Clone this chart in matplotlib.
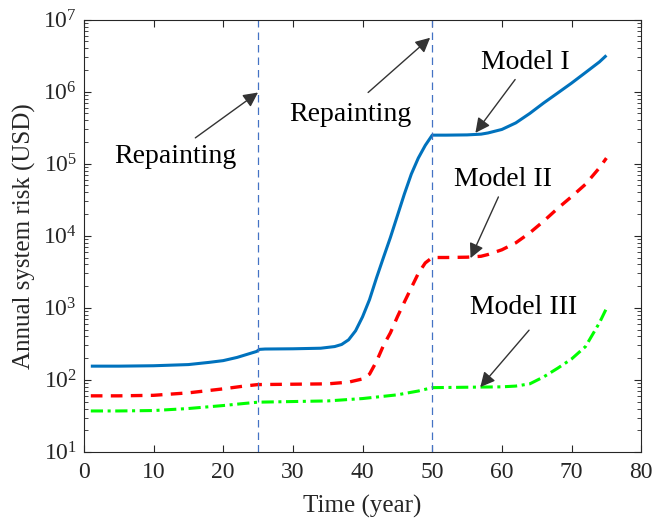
import numpy as np
import matplotlib
matplotlib.use("Agg")
import matplotlib.pyplot as plt

plt.rcParams['font.family'] = ['Liberation Serif', 'DejaVu Serif']
plt.rcParams['mathtext.fontset'] = 'stix'

# Model I (solid blue)
years_1 = [1, 5, 10, 15, 18, 20, 22, 24, 24.8, 25.2, 26, 30, 34, 36, 37, 38, 39, 40, 41, 42,
           43, 44, 45, 46, 47, 48, 49, 50, 52, 55, 57, 58, 60, 62, 64, 66, 68, 70, 72, 74, 75]
risk_1 = [155, 155, 157, 163, 175, 185, 205, 235, 248, 265, 268, 270, 275, 290, 310, 360,
          480, 750, 1300, 2600, 5000, 9500, 19000, 38000, 72000, 120000, 180000, 250000,
          250000, 252000, 258000, 268000, 300000, 370000, 500000, 700000, 960000,
          1320000, 1850000, 2600000, 3200000]

# Model II (dashed red)
years_2 = [1, 5, 10, 15, 20, 23, 25, 30, 35, 38, 40, 41, 42, 43, 44, 45, 46, 47, 48, 49,
           50, 52, 55, 57, 58, 60, 62, 64, 66, 68, 70, 72, 74, 75]
risk_2 = [60, 60, 61, 66, 75, 82, 86, 87, 88, 93, 103, 120, 180, 300, 450, 750, 1200,
          1900, 3000, 4200, 5000, 5000, 5050, 5200, 5500, 6400, 8000, 11000, 16000,
          24000, 35000, 52000, 88000, 120000]

# Model III (dash-dot green)
years_3 = [1, 5, 10, 15, 20, 23, 25, 30, 35, 40, 45, 48, 50, 55, 60, 62, 64, 66, 68, 70,
           72, 74, 75]
risk_3 = [37, 37, 37.5, 40, 44, 47, 49, 50, 51, 55, 62, 70, 78, 79, 80, 82, 88, 110, 145,
          195, 290, 620, 980]

repaint_years = [25, 50]

fig = plt.figure(figsize=(6.55, 5.2), dpi=100)
ax = fig.add_axes([0.128, 0.131, 0.851, 0.831])

ax.plot(years_1, risk_1, color='#0072BD', lw=2.2, solid_capstyle='butt')
ax.plot(years_2, risk_2, color='#FF0000', lw=2.4, ls=(0, (3.5, 2.5)))
ax.plot(years_3, risk_3, color='#00FF00', lw=2.2, ls=(0, (4, 1.5, 1, 1.5)))

for yr in repaint_years:
    ax.axvline(yr, color='#4472C4', lw=0.9, ls=(0, (6, 4)))

ax.set_yscale('log')
ax.set_xlim(0, 80)
ax.set_ylim(10, 1e7)
ax.set_xticks(range(0, 81, 10))

ax.tick_params(which='both', direction='in', top=True, right=True,
               colors='#262626', labelsize=17, labelcolor='#262626')
ax.tick_params(which='major', length=5)
ax.tick_params(which='minor', length=3)
ax.tick_params(axis='x', pad=7)
ax.tick_params(axis='y', pad=5)
for sp in ax.spines.values():
    sp.set_color('#262626')
    sp.set_linewidth(0.8)

ax.set_xlabel('Time (year)', fontsize=18, color='#262626', labelpad=9)
ax.set_ylabel('Annual system risk (USD)', fontsize=18, color='#262626', labelpad=5)

arrow = dict(arrowstyle='-|>', color='#333333', lw=1.0, mutation_scale=22,
             shrinkA=0, shrinkB=0)
ann_fs = 20

ax.text(13.2, 10**5.1, 'Repainting', fontsize=ann_fs, ha='center', va='center')
ax.annotate('', xy=(25, 10**5.99), xytext=(16, 10**5.36), arrowprops=arrow)

ax.text(38.2, 10**5.68, 'Repainting', fontsize=ann_fs, ha='center', va='center')
ax.annotate('', xy=(49.7, 10**6.75), xytext=(40.8, 10**5.99), arrowprops=arrow)

ax.text(63.4, 10**6.4, 'Model I', fontsize=ann_fs, ha='center', va='center')
ax.annotate('', xy=(56.2, 10**5.43), xytext=(61.9, 10**6.17), arrowprops=arrow)

ax.text(60.2, 10**4.78, 'Model II', fontsize=ann_fs, ha='center', va='center')
ax.annotate('', xy=(55.5, 10**3.69), xytext=(59.5, 10**4.54), arrowprops=arrow)

ax.text(63.1, 10**3.0, 'Model III', fontsize=ann_fs, ha='center', va='center')
ax.annotate('', xy=(56.9, 10**1.9), xytext=(63.9, 10**2.69), arrowprops=arrow)

fig.savefig('out.png', dpi=100)
